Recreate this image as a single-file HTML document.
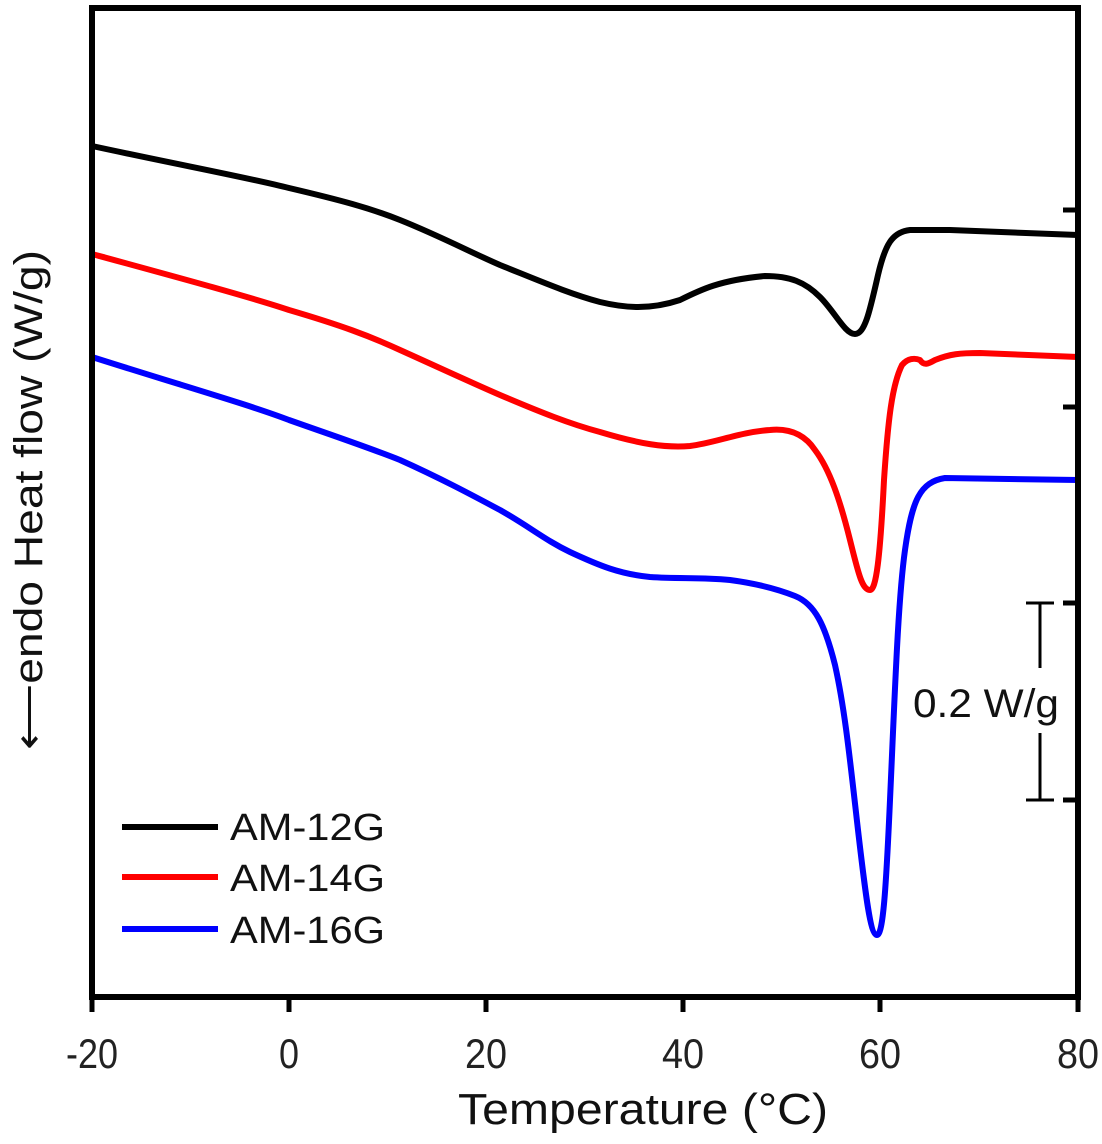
<!DOCTYPE html>
<html><head><meta charset="utf-8"><style>body{margin:0;background:#fff}</style></head>
<body>
<svg width="1102" height="1139" viewBox="0 0 1102 1139" xmlns="http://www.w3.org/2000/svg" font-family="Liberation Sans, sans-serif">
<g fill="none" stroke-linejoin="round" stroke-linecap="round" stroke-width="6">
<path stroke="#000" d="M92,146 C180,165 250,178 289,188 C340,200 370,208 400,220 C440,236 470,252 500,265 C540,281 570,294 600,302 C625,308 650,310 680,300 C700,290 720,280 765,276 C790,276 805,282 820,297 C835,312 845,334 855,334 C865,334 870,310 878,275 C885,245 892,232 910,230 L950,230 L1078,235"/>
<path stroke="#f00" d="M92,254 C180,278 250,297 289,310 C340,325 370,336 400,350 C440,368 470,382 500,395 C540,412 570,424 600,432 C640,444 665,448 690,446 C715,443 740,432 770,430 C790,428 805,435 815,450 C830,470 840,500 850,540 C858,572 862,590 870,590 C876,590 880,560 884,480 C888,420 892,385 902,365 C908,358 915,358 920,360 C924,366 928,364 935,360 C950,354 960,353 980,353 L1078,357"/>
<path stroke="#00f" d="M92,357 C180,385 250,405 289,420 C340,438 370,448 400,460 C440,478 470,494 500,510 C530,527 545,540 570,552 C600,566 620,574 650,577 C680,579 700,577 730,580 C760,584 780,590 795,596 C815,604 825,625 835,665 C845,710 850,760 858,830 C865,890 870,935 877,935 C883,935 886,890 890,800 C895,690 898,600 905,550 C912,500 920,482 945,478 L1078,480"/>
</g>
<rect x="92" y="8" width="986" height="989" fill="none" stroke="#000" stroke-width="6"/>
<g stroke="#000" stroke-width="5">
<line x1="92" y1="997" x2="92" y2="1012"/><line x1="289" y1="997" x2="289" y2="1012"/><line x1="486" y1="997" x2="486" y2="1012"/><line x1="683" y1="997" x2="683" y2="1012"/><line x1="880" y1="997" x2="880" y2="1012"/><line x1="1078" y1="997" x2="1078" y2="1012"/>
<line x1="1063" y1="210" x2="1078" y2="210"/><line x1="1063" y1="407" x2="1078" y2="407"/><line x1="1063" y1="603" x2="1078" y2="603"/><line x1="1063" y1="800" x2="1078" y2="800"/>
</g>
<g stroke="#000" stroke-width="3">
<line x1="1040" y1="603" x2="1040" y2="668"/><line x1="1040" y1="733" x2="1040" y2="800"/>
<line x1="1026" y1="603" x2="1054" y2="603"/><line x1="1026" y1="800" x2="1054" y2="800"/>
</g>
<text x="986" y="717" font-size="40" text-anchor="middle" fill="#111" textLength="146" lengthAdjust="spacingAndGlyphs">0.2 W/g</text>
<g font-size="42" fill="#222" text-anchor="middle">
<text x="92" y="1068" textLength="52" lengthAdjust="spacingAndGlyphs">-20</text><text x="289" y="1068" textLength="20" lengthAdjust="spacingAndGlyphs">0</text><text x="486" y="1068" textLength="42" lengthAdjust="spacingAndGlyphs">20</text><text x="683" y="1068" textLength="42" lengthAdjust="spacingAndGlyphs">40</text><text x="880" y="1068" textLength="42" lengthAdjust="spacingAndGlyphs">60</text><text x="1078" y="1068" textLength="42" lengthAdjust="spacingAndGlyphs">80</text>
</g>
<text x="643" y="1124" font-size="44" text-anchor="middle" fill="#111" textLength="370" lengthAdjust="spacingAndGlyphs">Temperature (°C)</text>
<text transform="translate(42,500) rotate(-90)" font-size="40" text-anchor="middle" fill="#111" textLength="500" lengthAdjust="spacingAndGlyphs">⟵endo  Heat flow (W/g)</text>
<g stroke-width="6">
<line x1="122" y1="827" x2="218" y2="827" stroke="#000"/>
<line x1="122" y1="877" x2="218" y2="877" stroke="#f00"/>
<line x1="122" y1="929" x2="218" y2="929" stroke="#00f"/>
</g>
<g font-size="38" fill="#111">
<text x="230" y="840" textLength="155" lengthAdjust="spacingAndGlyphs">AM-12G</text><text x="230" y="891" textLength="155" lengthAdjust="spacingAndGlyphs">AM-14G</text><text x="230" y="943" textLength="155" lengthAdjust="spacingAndGlyphs">AM-16G</text>
</g>
</svg>
</body></html>
